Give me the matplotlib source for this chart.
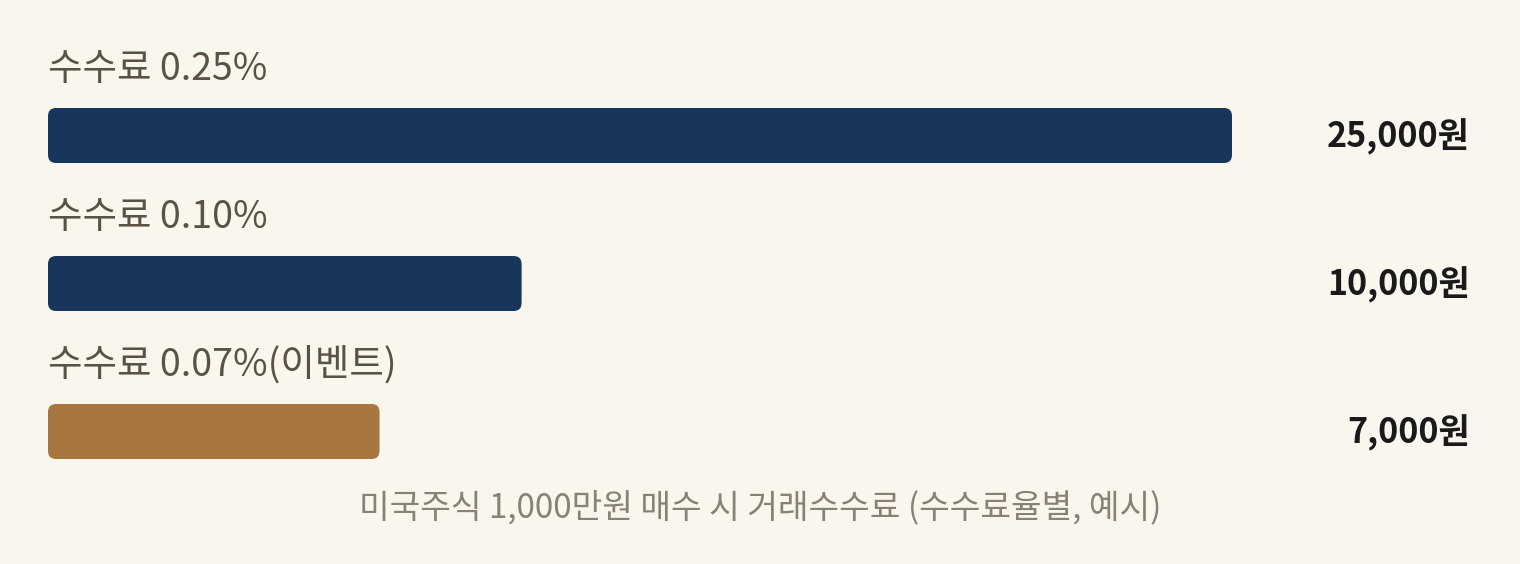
import matplotlib
matplotlib.use("Agg")
import matplotlib.pyplot as plt
from matplotlib.patches import FancyBboxPatch

labels = ["수수료 0.25%", "수수료 0.10%", "수수료 0.07%(이벤트)"]
values = [25000, 10000, 7000]
value_texts = ["25,000원", "10,000원", "7,000원"]
colors = ["#18365B", "#18365B", "#A8773F"]
caption = "미국주식 1,000만원 매수 시 거래수수료 (수수료율별, 예시)"

BG = "#F9F6EE"
plt.rcParams['font.family'] = ['Noto Sans CJK KR', 'DejaVu Sans']

W, H = 1520, 564
fig = plt.figure(figsize=(W / 100, H / 100), dpi=100, facecolor=BG)
x0, xw = 48, 1184
ax = fig.add_axes([x0 / W, 0, xw / W, 1])
ax.set_facecolor(BG)
ax.set_xlim(0, max(values))
step = 148.0
first = 135.5
ax.set_ylim((H - first) / step, -first / step)
ax.axis("off")

bar_h = 55 / step
ux = max(values) / xw  # data per px in x
uy = 1 / step          # data per px in y
r_px = 8
bars = ax.barh(range(len(values)), values, height=bar_h, color="none")
for i, b in enumerate(bars):
    x, y = b.get_x(), b.get_y()
    w, h = b.get_width(), b.get_height()
    p = FancyBboxPatch((x, y), w, h,
                       boxstyle=f"round,pad=0,rounding_size={r_px * ux}",
                       mutation_aspect=uy / ux,
                       facecolor=colors[i], edgecolor="none")
    ax.add_patch(p)
    b.remove()
    ax.text(0, i - 66 / step, labels[i], ha="left", va="center",
            fontsize=27, color="#5A5245", fontweight="light")
    ax.text(1470 / W, 1 - (first + i * step + 1) / H, value_texts[i],
            transform=fig.transFigure, ha="right", va="center",
            fontsize=24.5, color="#1A1A1A", fontweight="bold")

fig.text(760 / W, 1 - 508 / H, caption, ha="center", va="center",
         fontsize=24, color="#8A8176", fontweight="light")

fig.savefig("out.png", dpi=100, facecolor=BG)
